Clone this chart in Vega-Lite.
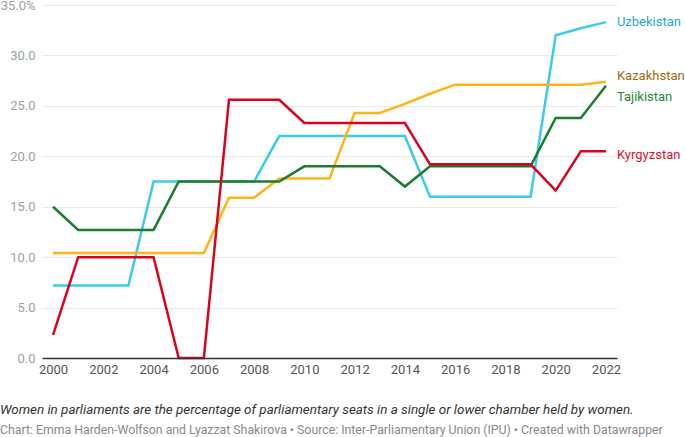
{
  "$schema": "https://vega.github.io/schema/vega-lite/v6.json",
  "width": 575,
  "height": 353,
  "autosize": "none",
  "padding": {"left": 42, "top": 5, "right": 68, "bottom": 79},
  "background": "#ffffff",
  "config": {
    "font": "Roboto",
    "view": {"stroke": null},
    "title": {"font": "Roboto"}
  },
  "title": {
    "text": "Women in parliaments are the percentage of parliamentary seats in a single or lower chamber held by women.",
    "subtitle": "Chart: Emma Harden-Wolfson and Lyazzat Shakirova • Source: Inter-Parliamentary Union (IPU) • Created with Datawrapper",
    "orient": "bottom",
    "anchor": "start",
    "frame": "group",
    "dx": -42,
    "offset": 27,
    "fontSize": 13.4,
    "fontStyle": "italic",
    "fontWeight": "normal",
    "color": "#333333",
    "subtitleFontSize": 12.3,
    "subtitleColor": "#888888",
    "subtitlePadding": 8
  },
  "data": {
    "values": [
      {"country": "Uzbekistan", "year": 2000, "value": 7.2},
      {"country": "Uzbekistan", "year": 2001, "value": 7.2},
      {"country": "Uzbekistan", "year": 2002, "value": 7.2},
      {"country": "Uzbekistan", "year": 2003, "value": 7.2},
      {"country": "Uzbekistan", "year": 2004, "value": 17.5},
      {"country": "Uzbekistan", "year": 2005, "value": 17.5},
      {"country": "Uzbekistan", "year": 2006, "value": 17.5},
      {"country": "Uzbekistan", "year": 2007, "value": 17.5},
      {"country": "Uzbekistan", "year": 2008, "value": 17.5},
      {"country": "Uzbekistan", "year": 2009, "value": 22.0},
      {"country": "Uzbekistan", "year": 2010, "value": 22.0},
      {"country": "Uzbekistan", "year": 2011, "value": 22.0},
      {"country": "Uzbekistan", "year": 2012, "value": 22.0},
      {"country": "Uzbekistan", "year": 2013, "value": 22.0},
      {"country": "Uzbekistan", "year": 2014, "value": 22.0},
      {"country": "Uzbekistan", "year": 2015, "value": 16.0},
      {"country": "Uzbekistan", "year": 2016, "value": 16.0},
      {"country": "Uzbekistan", "year": 2017, "value": 16.0},
      {"country": "Uzbekistan", "year": 2018, "value": 16.0},
      {"country": "Uzbekistan", "year": 2019, "value": 16.0},
      {"country": "Uzbekistan", "year": 2020, "value": 32.0},
      {"country": "Uzbekistan", "year": 2021, "value": 32.7},
      {"country": "Uzbekistan", "year": 2022, "value": 33.3},

      {"country": "Kazakhstan", "year": 2000, "value": 10.4},
      {"country": "Kazakhstan", "year": 2001, "value": 10.4},
      {"country": "Kazakhstan", "year": 2002, "value": 10.4},
      {"country": "Kazakhstan", "year": 2003, "value": 10.4},
      {"country": "Kazakhstan", "year": 2004, "value": 10.4},
      {"country": "Kazakhstan", "year": 2005, "value": 10.4},
      {"country": "Kazakhstan", "year": 2006, "value": 10.4},
      {"country": "Kazakhstan", "year": 2007, "value": 15.9},
      {"country": "Kazakhstan", "year": 2008, "value": 15.9},
      {"country": "Kazakhstan", "year": 2009, "value": 17.8},
      {"country": "Kazakhstan", "year": 2010, "value": 17.8},
      {"country": "Kazakhstan", "year": 2011, "value": 17.8},
      {"country": "Kazakhstan", "year": 2012, "value": 24.3},
      {"country": "Kazakhstan", "year": 2013, "value": 24.3},
      {"country": "Kazakhstan", "year": 2014, "value": 25.2},
      {"country": "Kazakhstan", "year": 2015, "value": 26.2},
      {"country": "Kazakhstan", "year": 2016, "value": 27.1},
      {"country": "Kazakhstan", "year": 2017, "value": 27.1},
      {"country": "Kazakhstan", "year": 2018, "value": 27.1},
      {"country": "Kazakhstan", "year": 2019, "value": 27.1},
      {"country": "Kazakhstan", "year": 2020, "value": 27.1},
      {"country": "Kazakhstan", "year": 2021, "value": 27.1},
      {"country": "Kazakhstan", "year": 2022, "value": 27.4},

      {"country": "Tajikistan", "year": 2000, "value": 15.0},
      {"country": "Tajikistan", "year": 2001, "value": 12.7},
      {"country": "Tajikistan", "year": 2002, "value": 12.7},
      {"country": "Tajikistan", "year": 2003, "value": 12.7},
      {"country": "Tajikistan", "year": 2004, "value": 12.7},
      {"country": "Tajikistan", "year": 2005, "value": 17.5},
      {"country": "Tajikistan", "year": 2006, "value": 17.5},
      {"country": "Tajikistan", "year": 2007, "value": 17.5},
      {"country": "Tajikistan", "year": 2008, "value": 17.5},
      {"country": "Tajikistan", "year": 2009, "value": 17.5},
      {"country": "Tajikistan", "year": 2010, "value": 19.0},
      {"country": "Tajikistan", "year": 2011, "value": 19.0},
      {"country": "Tajikistan", "year": 2012, "value": 19.0},
      {"country": "Tajikistan", "year": 2013, "value": 19.0},
      {"country": "Tajikistan", "year": 2014, "value": 17.0},
      {"country": "Tajikistan", "year": 2015, "value": 19.0},
      {"country": "Tajikistan", "year": 2016, "value": 19.0},
      {"country": "Tajikistan", "year": 2017, "value": 19.0},
      {"country": "Tajikistan", "year": 2018, "value": 19.0},
      {"country": "Tajikistan", "year": 2019, "value": 19.0},
      {"country": "Tajikistan", "year": 2020, "value": 23.8},
      {"country": "Tajikistan", "year": 2021, "value": 23.8},
      {"country": "Tajikistan", "year": 2022, "value": 27.0},

      {"country": "Kyrgyzstan", "year": 2000, "value": 2.3},
      {"country": "Kyrgyzstan", "year": 2001, "value": 10.0},
      {"country": "Kyrgyzstan", "year": 2002, "value": 10.0},
      {"country": "Kyrgyzstan", "year": 2003, "value": 10.0},
      {"country": "Kyrgyzstan", "year": 2004, "value": 10.0},
      {"country": "Kyrgyzstan", "year": 2005, "value": 0.0},
      {"country": "Kyrgyzstan", "year": 2006, "value": 0.0},
      {"country": "Kyrgyzstan", "year": 2007, "value": 25.6},
      {"country": "Kyrgyzstan", "year": 2008, "value": 25.6},
      {"country": "Kyrgyzstan", "year": 2009, "value": 25.6},
      {"country": "Kyrgyzstan", "year": 2010, "value": 23.3},
      {"country": "Kyrgyzstan", "year": 2011, "value": 23.3},
      {"country": "Kyrgyzstan", "year": 2012, "value": 23.3},
      {"country": "Kyrgyzstan", "year": 2013, "value": 23.3},
      {"country": "Kyrgyzstan", "year": 2014, "value": 23.3},
      {"country": "Kyrgyzstan", "year": 2015, "value": 19.2},
      {"country": "Kyrgyzstan", "year": 2016, "value": 19.2},
      {"country": "Kyrgyzstan", "year": 2017, "value": 19.2},
      {"country": "Kyrgyzstan", "year": 2018, "value": 19.2},
      {"country": "Kyrgyzstan", "year": 2019, "value": 19.2},
      {"country": "Kyrgyzstan", "year": 2020, "value": 16.6},
      {"country": "Kyrgyzstan", "year": 2021, "value": 20.5},
      {"country": "Kyrgyzstan", "year": 2022, "value": 20.5}
    ]
  },
  "encoding": {
    "x": {
      "field": "year",
      "type": "quantitative",
      "scale": {"domain": [1999.56, 2022.44], "nice": false, "zero": false},
      "axis": {
        "title": null,
        "values": [2000, 2002, 2004, 2006, 2008, 2010, 2012, 2014, 2016, 2018, 2020, 2022],
        "format": "d",
        "ticks": false,
        "grid": false,
        "domain": true,
        "domainColor": "#333333",
        "domainWidth": 1.5,
        "labelFont": "Roboto",
        "labelFontSize": 13,
        "labelColor": "#555555",
        "labelPadding": 5,
        "labelFlush": false,
        "zindex": 1
      }
    },
    "y": {
      "field": "value",
      "type": "quantitative",
      "scale": {"domain": [0, 35], "nice": false},
      "axis": {
        "title": null,
        "values": [0, 5, 10, 15, 20, 25, 30, 35],
        "labelExpr": "datum.value == 35 ? format(datum.value, '.1f') + '%' : format(datum.value, '.1f')",
        "ticks": false,
        "domain": false,
        "grid": true,
        "gridColor": "#e6e9e9",
        "gridWidth": 1,
        "labelFont": "Roboto",
        "labelFontSize": 13,
        "labelColor": "#9aa3a3",
        "labelPadding": 7
      }
    }
  },
  "layer": [
    {
      "mark": {"type": "line", "strokeWidth": 2.5, "strokeJoin": "miter", "strokeCap": "butt"},
      "encoding": {
        "color": {
          "field": "country",
          "type": "nominal",
          "scale": {
            "domain": ["Uzbekistan", "Kazakhstan", "Tajikistan", "Kyrgyzstan"],
            "range": ["#3ccbea", "#fdb515", "#1b7d2e", "#d8041f"]
          },
          "legend": null
        },
        "order": {"field": "year"}
      }
    },
    {
      "transform": [{"filter": "datum.year == 2022 && datum.country == 'Uzbekistan'"}],
      "mark": {"type": "text", "align": "left", "baseline": "middle", "dx": 11, "dy": 0, "fontSize": 13, "color": "#1fa9cc"},
      "encoding": {"text": {"field": "country"}}
    },
    {
      "transform": [{"filter": "datum.year == 2022 && datum.country == 'Kazakhstan'"}],
      "mark": {"type": "text", "align": "left", "baseline": "middle", "dx": 11, "dy": -6, "fontSize": 13, "color": "#9c6b12"},
      "encoding": {"text": {"field": "country"}}
    },
    {
      "transform": [{"filter": "datum.year == 2022 && datum.country == 'Tajikistan'"}],
      "mark": {"type": "text", "align": "left", "baseline": "middle", "dx": 11, "dy": 11, "fontSize": 13, "color": "#1d8a3a"},
      "encoding": {"text": {"field": "country"}}
    },
    {
      "transform": [{"filter": "datum.year == 2022 && datum.country == 'Kyrgyzstan'"}],
      "mark": {"type": "text", "align": "left", "baseline": "middle", "dx": 11, "dy": 4, "fontSize": 13, "color": "#d4122e"},
      "encoding": {"text": {"field": "country"}}
    }
  ]
}
